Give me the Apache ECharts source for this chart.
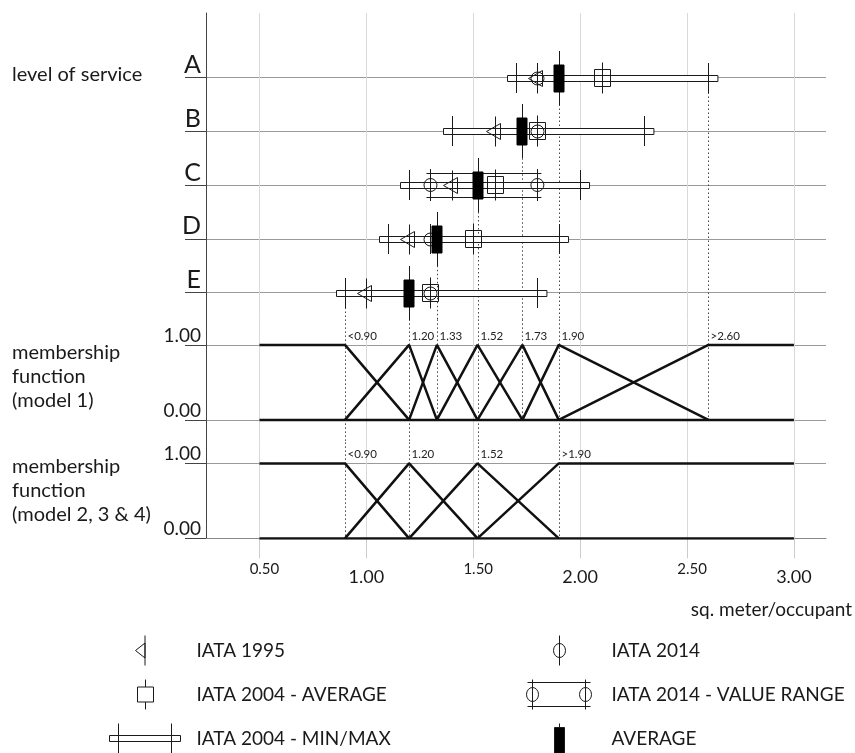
<!DOCTYPE html>
<html>
<head>
<meta charset="utf-8">
<script src="https://cdn.jsdelivr.net/npm/echarts@6/dist/echarts.min.js"></script>
<style>
html, body { margin: 0; padding: 0; background: #fff; }
#main { width: 855px; height: 753px; }
</style>
</head>
<body>
<div id="main"></div>
<script>
// level of service rows, top to bottom
var levels = ['A', 'B', 'C', 'D', 'E'];
var iata1995 = [1.80, 1.60, 1.40, 1.20, 1.00];
var iata2004Avg = [2.10, 1.80, 1.60, 1.50, 1.30];
var iata2004Min = [1.70, 1.40, 1.20, 1.10, 0.90];
var iata2004Max = [2.60, 2.30, 2.00, 1.90, 1.80];
var iata2014 = [1.80, 1.80, null, 1.30, 1.30];
var iata2014Low = [null, null, 1.30, null, null];
var iata2014High = [null, null, 1.80, null, null];
var average = [1.90, 1.73, 1.52, 1.33, 1.20];

// membership functions
var model1Breaks = [0.90, 1.20, 1.33, 1.52, 1.73, 1.90, 2.60];
var model1Labels = ['<0.90', '1.20', '1.33', '1.52', '1.73', '1.90', '>2.60'];
var model1From = ['E', 'E', 'D', 'C', 'B', 'A', 'A'];
var model2Breaks = [0.90, 1.20, 1.52, 1.90];
var model2Labels = ['<0.90', '1.20', '1.52', '>1.90'];
var xRange = [0.50, 3.00];
var xTicks = [0.50, 1.00, 1.50, 2.00, 2.50, 3.00];

var INK = '#1a1a1a';
var FONT = 'Lato, "Open Sans", sans-serif';

function px(v) { return Math.round(v) + 0.5; }

function vbar(x, y, half) {
    return {type: 'line', shape: {x1: px(x), y1: y - half, x2: px(x), y2: y + half},
        style: {stroke: INK, lineWidth: 1}};
}

function rowData(values) {
    var out = [];
    values.forEach(function (v, i) { if (v != null) out.push([v, i]); });
    return out;
}

// triangles of a membership model, plus its zero line
function membership(breaks) {
    var out = [];
    for (var i = 0; i < breaks.length; i++) {
        var left = i === 0 ? [xRange[0], 1] : [breaks[i - 1], 0];
        var right = i === breaks.length - 1 ? [xRange[1], 1] : [breaks[i + 1], 0];
        out.push([left, [breaks[i], 1], right]);
    }
    out.push([[xRange[0], 0], [xRange[1], 0]]);
    return out;
}

function membershipSeries(breaks, idx) {
    return membership(breaks).map(function (pts) {
        return {
            type: 'line', xAxisIndex: idx, yAxisIndex: idx, data: pts,
            symbol: 'none', silent: true, z: 3,
            lineStyle: {color: '#111', width: 2.5}
        };
    });
}

function guideSeries(breaks, labels, idx, stopAtZero) {
    return {
        type: 'custom', xAxisIndex: idx, yAxisIndex: idx, silent: true, z: 1,
        data: breaks.map(function (b, k) { return [b, 0, k]; }),
        encode: {x: 0, y: 1},
        renderItem: function (params, api) {
            var b = api.value(0), k = api.value(2);
            var cs = params.coordSys;
            var x = px(api.coord([b, 0])[0]);
            var yZero = api.coord([b, 0])[1];
            var yOne = api.coord([b, 1])[1];
            var bottom = (stopAtZero && model2Breaks.indexOf(b) < 0) ? yZero : cs.y + cs.height;
            return {type: 'group', children: [
                {type: 'line', shape: {x1: x, y1: cs.y, x2: x, y2: bottom},
                    style: {stroke: '#444', lineWidth: 1, lineDash: [1.5, 2.5]}},
                {type: 'text', x: x + 2, y: yOne - 3,
                    style: {text: labels[k], fill: '#222', font: '11.5px ' + FONT,
                        align: 'left', verticalAlign: 'bottom'}}
            ]};
        }
    };
}

function yAxisFor(idx, min, max, values, fmt, fontSize) {
    return {
        type: 'value', gridIndex: idx, min: min, max: max, inverse: idx === 0,
        axisLine: {show: true, onZero: false, lineStyle: {color: '#444', width: 1}},
        axisTick: {show: true, length: 21, customValues: values, lineStyle: {color: '#444'}},
        axisLabel: {show: true, customValues: values, formatter: fmt, margin: 5,
            verticalAlign: 'bottom', color: INK, fontFamily: FONT, fontSize: fontSize, lineHeight: fontSize},
        splitLine: {show: true, lineStyle: {color: '#9a9a9a', width: 1}}
    };
}

function xAxisFor(idx, showAxis) {
    return {
        type: 'value', gridIndex: idx, min: 0.25, max: 3.15,
        axisLine: {show: showAxis, onZero: false, lineStyle: {color: '#888'}},
        axisTick: {show: showAxis, length: 20, customValues: xTicks, lineStyle: {color: '#ccc'}},
        axisLabel: {
            show: showAxis, customValues: xTicks, margin: 22,
            formatter: function (v) {
                return (Math.round(v * 2) % 2 === 1 ? '{s|' : '{b|') + v.toFixed(2) + '}';
            },
            rich: {
                s: {fontSize: 15, lineHeight: 18, padding: [0, 0, 0, 10], color: INK, fontFamily: FONT},
                b: {fontSize: 18, lineHeight: 22, padding: [12, 0, 0, 0], color: INK, fontFamily: FONT}
            }
        },
        splitLine: {show: true, lineStyle: {color: '#d9d9d9', width: 1}},
        name: showAxis ? 'sq. meter/occupant' : '',
        nameLocation: 'end', nameGap: 26,
        nameTextStyle: {align: 'right', verticalAlign: 'top', padding: [62, 0, 0, 0],
            color: INK, fontFamily: FONT, fontSize: 19}
    };
}

var chart = echarts.init(document.getElementById('main'));

var series = [
    {
        type: 'custom', name: 'guides', silent: true, z: 1,
        data: model1Breaks.map(function (b, k) { return [b, levels.indexOf(model1From[k])]; }),
        encode: {x: 0, y: 1},
        renderItem: function (params, api) {
            var b = api.value(0), row = api.value(1);
            var p = api.coord([b, row]);
            var cs = params.coordSys;
            var start = p[1] + (average[row] === b ? 27 : 15);
            return {type: 'line', shape: {x1: px(p[0]), y1: start, x2: px(p[0]), y2: cs.y + cs.height},
                style: {stroke: '#444', lineWidth: 1, lineDash: [1.5, 2.5]}};
        }
    },
    {
        type: 'custom', name: 'IATA 2004 - MIN/MAX',
        data: iata2004Min.map(function (v, i) { return [v, iata2004Max[i], i]; }),
        encode: {x: [0, 1], y: 2},
        renderItem: function (params, api) {
            var a = api.coord([api.value(0), api.value(2)]);
            var b = api.coord([api.value(1), api.value(2)]);
            var y = Math.round(a[1]);
            return {type: 'group', children: [
                {type: 'rect', shape: {x: px(a[0]) - 9, y: y - 2.5, width: b[0] - a[0] + 18, height: 6},
                    style: {fill: '#fff', stroke: INK, lineWidth: 1}},
                vbar(a[0], y, 15),
                vbar(b[0], y, 15)
            ]};
        }
    },
    {
        type: 'custom', name: 'IATA 2014 - VALUE RANGE',
        data: (function () {
            var out = [];
            iata2014Low.forEach(function (v, i) { if (v != null) out.push([v, iata2014High[i], i]); });
            return out;
        })(),
        encode: {x: [0, 1], y: 2},
        renderItem: function (params, api) {
            var a = api.coord([api.value(0), api.value(2)]);
            var b = api.coord([api.value(1), api.value(2)]);
            var y = Math.round(a[1]);
            var style = {stroke: INK, lineWidth: 1};
            return {type: 'group', children: [
                {type: 'line', shape: {x1: a[0] - 4, y1: y - 11.5, x2: b[0] + 4, y2: y - 11.5}, style: style},
                {type: 'line', shape: {x1: a[0] - 4, y1: y + 12.5, x2: b[0] + 4, y2: y + 12.5}, style: style},
                {type: 'circle', shape: {cx: a[0], cy: y, r: 6.5}, style: {fill: 'none', stroke: INK, lineWidth: 1}},
                {type: 'circle', shape: {cx: b[0], cy: y, r: 6.5}, style: {fill: 'none', stroke: INK, lineWidth: 1}},
                vbar(a[0], y, 16),
                vbar(b[0], y, 16)
            ]};
        }
    },
    {
        type: 'custom', name: 'IATA 2004 - AVERAGE',
        data: rowData(iata2004Avg),
        encode: {x: 0, y: 1},
        renderItem: function (params, api) {
            var p = api.coord([api.value(0), api.value(1)]);
            var x = px(p[0]), y = Math.round(p[1]);
            return {type: 'group', children: [
                {type: 'rect', shape: {x: x - 8, y: y - 8.5, width: 16, height: 17},
                    style: {fill: 'none', stroke: INK, lineWidth: 1}},
                vbar(p[0], y, 15.5)
            ]};
        }
    },
    {
        type: 'custom', name: 'IATA 2014',
        data: rowData(iata2014),
        encode: {x: 0, y: 1},
        renderItem: function (params, api) {
            var p = api.coord([api.value(0), api.value(1)]);
            var y = Math.round(p[1]);
            return {type: 'group', children: [
                {type: 'circle', shape: {cx: px(p[0]), cy: y + 0.5, r: 6.5},
                    style: {fill: 'none', stroke: INK, lineWidth: 1}},
                vbar(p[0], y, 15)
            ]};
        }
    },
    {
        type: 'custom', name: 'IATA 1995',
        data: rowData(iata1995),
        encode: {x: 0, y: 1},
        renderItem: function (params, api) {
            var p = api.coord([api.value(0), api.value(1)]);
            var x = px(p[0]), y = Math.round(p[1]) + 0.5;
            return {type: 'group', children: [
                {type: 'polygon', shape: {points: [[x - 9, y], [x + 5, y - 8], [x + 5, y + 8]]},
                    style: {fill: 'none', stroke: INK, lineWidth: 1}},
                vbar(p[0], y, 15)
            ]};
        }
    },
    {
        type: 'custom', name: 'AVERAGE',
        data: rowData(average),
        encode: {x: 0, y: 1},
        renderItem: function (params, api) {
            var p = api.coord([api.value(0), api.value(1)]);
            var x = Math.round(p[0]), y = Math.round(p[1]);
            return {type: 'group', children: [
                vbar(p[0], y, 27),
                {type: 'rect', shape: {x: x - 5, y: y - 13, width: 10, height: 27},
                    style: {fill: '#000', stroke: '#000', lineWidth: 1}}
            ]};
        }
    },
    guideSeries(model1Breaks, model1Labels, 1, true),
    guideSeries(model2Breaks, model2Labels, 2, false)
].concat(membershipSeries(model1Breaks, 1), membershipSeries(model2Breaks, 2));

// legend glyphs, drawn in an 82 x 30 box
var leftIcons = {
    'IATA 1995': 'path://M0,0M82,30M35.5,0L35.5,30M35.5,7.5L26,15L35.5,22.5Z',
    'IATA 2004 - AVERAGE': 'path://M0,0M82,30M28,7.5L44,7.5L44,22.5L28,22.5ZM36,0L36,7.5M36,22.5L36,30',
    'IATA 2004 - MIN/MAX': 'path://M0,0M82,30M0,12L71,12L71,18L0,18ZM9,0L9,30M62,0L62,30'
};
var rightIcons = {
    'IATA 2014': 'path://M0,0M82,30M35,0L35,30M41,15A6,7 0 1,1 29,15A6,7 0 1,1 41,15Z',
    'IATA 2014 - VALUE RANGE': 'path://M0,0M82,30M3,3L66,3M3,27L66,27M14,15A6,7 0 1,1 2,15A6,7 0 1,1 14,15ZM67,15A6,7 0 1,1 55,15A6,7 0 1,1 67,15ZM8,0L8,30M61,0L61,30',
    'AVERAGE': 'path://M0,0M82,30M35,0L35,4M30,4L40,4L40,30L30,30Z'
};

function legendFor(icons, left) {
    return {
        orient: 'vertical', left: left, top: 635, height: 150, padding: 0,
        itemWidth: 82, itemHeight: 30, itemGap: 13, selectedMode: false,
        textStyle: {color: INK, fontFamily: FONT, fontSize: 19},
        data: Object.keys(icons).map(function (name) {
            return {name: name, icon: icons[name],
                itemStyle: {color: name === 'AVERAGE' ? '#000' : '#fff', borderColor: INK, borderWidth: 1}};
        })
    };
}

var option = {
    animation: false,
    backgroundColor: '#fff',
    grid: [
        {left: 206, right: 29, top: 13, height: 306.4, outerBoundsMode: 'none'},
        {left: 206, right: 29, top: 319.4, height: 123, outerBoundsMode: 'none'},
        {left: 206, right: 29, top: 442.4, height: 96, outerBoundsMode: 'none'}
    ],
    xAxis: [xAxisFor(0, false), xAxisFor(1, false), xAxisFor(2, true)],
    yAxis: [
        yAxisFor(0, -1.2, 4.5, [0, 1, 2, 3, 4], function (v) { return levels[Math.round(v)]; }, 25),
        yAxisFor(1, -0.3, 1.34, [0, 1], function (v) { return v.toFixed(2); }, 19),
        yAxisFor(2, 0, 1.28, [0, 1], function (v) { return v.toFixed(2); }, 19)
    ],
    legend: [legendFor(leftIcons, 109), legendFor(rightIcons, 524)],
    graphic: [
        {type: 'text', left: 12, top: 65,
            style: {text: 'level of service', fill: INK, font: '20px ' + FONT}},
        {type: 'text', left: 12, top: 341,
            style: {text: 'membership\nfunction\n(model 1)', fill: INK, font: '20px ' + FONT, lineHeight: 24}},
        {type: 'text', left: 12, top: 455,
            style: {text: 'membership\nfunction\n(model 2, 3 & 4)', fill: INK, font: '20px ' + FONT, lineHeight: 24}}
    ],
    series: series
};

chart.setOption(option);
</script>
</body>
</html>
